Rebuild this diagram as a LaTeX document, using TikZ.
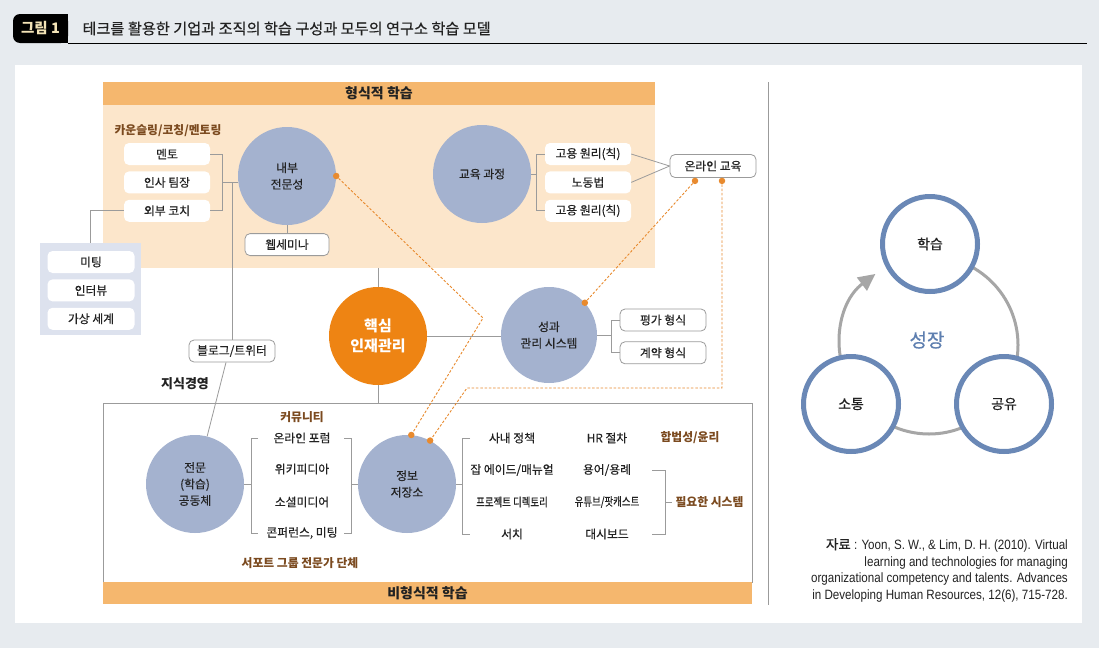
\documentclass[tikz,border=0pt]{standalone}
\usepackage{fontspec}
\setmainfont{Noto Sans CJK KR}[UprightFeatures={FakeBold=0.4}]
\newfontfamily\krnarrow{Noto Sans CJK KR}[FakeStretch=0.8, FakeBold=0.4]
\newfontfamily\citefont{Liberation Sans}[FakeStretch=0.86]
\usetikzlibrary{arrows.meta,positioning,calc}

\definecolor{bggray}{HTML}{E7EBEF}
\definecolor{bandorange}{HTML}{F5B76E}
\definecolor{formalbg}{HTML}{FCE6CB}
\definecolor{bubbleblue}{HTML}{A4B2CF}
\definecolor{coreorange}{HTML}{EE8413}
\definecolor{tagbrown}{HTML}{7B4A1F}
\definecolor{linegray}{HTML}{9B9B9B}
\definecolor{dashorange}{HTML}{E88A2E}
\definecolor{groupbg}{HTML}{DDE2EE}
\definecolor{ringblue}{HTML}{6A88B6}
\definecolor{arcgray}{HTML}{A6A6A6}
\definecolor{growblue}{HTML}{5E7FB0}
\definecolor{tabcream}{HTML}{F3E3B6}
\definecolor{inkdark}{HTML}{222222}

\begin{document}
\begin{tikzpicture}[
  x=1pt, y=-1pt,
  chip/.style={fill=white, rounded corners=5pt, minimum width=86pt, minimum height=22pt, inner sep=0pt, text=inkdark, font=\fontsize{11.8}{13}\selectfont},
  chipbox/.style={chip, draw=linegray, line width=0.8pt},
  bubble/.style={circle, fill=bubbleblue, minimum size=98pt, inner sep=0pt, align=center, text=inkdark, font=\fontsize{11.8}{16.5}\selectfont},
  brownlabel/.style={font=\bfseries\fontsize{11.8}{13}\selectfont, text=tagbrown},
  entrytext/.style={text=inkdark, font=\fontsize{11.8}{13}\selectfont},
  bandbar/.style={fill=bandorange, inner sep=0pt, text=inkdark, font=\bfseries\fontsize{14}{15}\selectfont},
  wire/.style={draw=linegray, line width=0.8pt},
  dashwire/.style={draw=dashorange, line width=0.9pt, dash pattern=on 2.5pt off 1.8pt},
  orangedot/.style={circle, fill=dashorange, inner sep=0pt, minimum size=6.5pt},
  ringnode/.style={circle, draw=ringblue, line width=5pt, fill=white, minimum size=95pt, inner sep=0pt, text=inkdark, font=\fontsize{14}{15}\selectfont},
  arcline/.style={draw=arcgray, line width=3pt},
]
\fill[bggray] (0,0) rectangle (1099,648);
\useasboundingbox (0,0) rectangle (1099,648);
\fill[white] (15,65) rectangle (1082,623);

% Title
\fill[black] (40,14) rectangle (68,43);
\node[fill=black, rounded corners=7pt, minimum width=55pt, minimum height=29pt, inner sep=0pt, text=tabcream, font=\bfseries\fontsize{14.5}{16}\selectfont] (figtab) at (40.5,28.5) {그림 1};
\node[anchor=west, text=inkdark, font=\fontsize{15.2}{16}\selectfont] (figtitle) at (79,28.5) {테크를 활용한 기업과 조직의 학습 구성과 모두의 연구소 학습 모델};
\draw[line width=1.2pt] (figtab.south east) -- ++(1019,0);

% Formal learning
\node[fill=formalbg, minimum width=552pt, minimum height=163pt, inner sep=0pt] (formal) at (379,186.5) {};
\node[bandbar, minimum width=552pt, minimum height=23pt] (formalhead) at (379,93.5) {형식적 학습};

% Informal learning
\node[draw=linegray, line width=0.8pt, minimum width=649pt, minimum height=179pt, inner sep=0pt] (informal) at (427.5,492.5) {};
\node[bandbar, minimum width=649pt, minimum height=22pt] (informalhead) at (427.5,593) {비형식적 학습};

% Counselling group
\node[brownlabel] (counsel) at (168,131) {카운슬링/코칭/멘토링};
\node[chip] (mentor) at (167,154) {멘토};
\node[chip, below=6pt of mentor] (hrlead) {인사 팀장};
\node[chip, below=6pt of hrlead] (coach) {외부 코치};

\node[fill=groupbg, minimum width=101pt, minimum height=92pt, inner sep=0pt] (meetbox) at (90.5,289) {};
\node[chip, minimum width=87pt] (meeting) at (91,262) {미팅};
\node[chip, minimum width=87pt, below=6pt of meeting] (interview) {인터뷰};
\node[chip, minimum width=87pt, below=6pt of interview] (virtual) {가상 세계};

\node[bubble] (inner) at (287,176) {내부\\전문성};
\node[chipbox, minimum width=84pt, below=8pt of inner] (webinar) {웹세미나};

% Courses
\node[bubble] (course) at (482,174) {교육 과정};
\node[chip] (law1) at (588,154) {고용 원리(칙)};
\node[chip, below=6pt of law1] (law2) {노동법};
\node[chip, below=6pt of law2] (law3) {고용 원리(칙)};
\node[chipbox, minimum height=23pt] (online) at (713,166) {온라인 교육};

% Core
\node[circle, fill=coreorange, minimum size=98pt, inner sep=0pt, text=white, align=center, font=\bfseries\fontsize{15}{20}\selectfont] (core) at (378,336) {핵심\\인재관리};
\node[bubble, minimum size=96pt] (perf) at (549,335) {성과\\관리 시스템};
\node[chipbox] (evalform) at (663,320) {평가 형식};
\node[chipbox, below=10pt of evalform] (contract) {계약 형식};

\node[chipbox] (blog) at (232,351) {블로그/트위터};
\node[text=inkdark, font=\bfseries\fontsize{13}{14}\selectfont] (km) at (185,384) {지식경영};

% Community
\node[bubble] (community) at (195,484) {전문\\(학습)\\공동체};
\node[brownlabel] (commtitle) at (302,417) {커뮤니티};
\node[entrytext] (forum) at (302,438) {온라인 포럼};
\node[entrytext] (wiki) at (302,469) {위키피디아};
\node[entrytext] (social) at (302,502) {소셜미디어};
\node[entrytext] (conf) at (302,533) {콘퍼런스, 미팅};
\node[brownlabel] (support) at (300,563) {서포트 그룹 전문가 단체};

\node[bubble] (store) at (407,484) {정보\\저장소};
\node[entrytext] (policy) at (512,438) {사내 정책};
\node[entrytext] (jobaid) at (512,470) {잡 에이드/매뉴얼};
\node[entrytext] (projdir) at (512,502) {\krnarrow 프로젝트 디렉토리};
\node[entrytext] (search) at (512,534) {서치};
\node[entrytext] (hrproc) at (607,438) {HR 절차};
\node[entrytext] (terms) at (607,470) {용어/용례};
\node[entrytext] (tube) at (607,502) {\krnarrow 유튜브/팟캐스트};
\node[entrytext] (dash) at (607,534) {대시보드};
\node[brownlabel] (legal) at (690,438) {합법성/윤리};
\node[brownlabel, anchor=west] (needsys) at (672,502) {필요한 시스템};

% Connectors
\draw[wire] (mentor.east) -- ++(12,0) |- (coach.east);
\draw[wire] ([xshift=12pt]hrlead.east) -- (hrlead.east -| inner.west);
\draw[wire] (hrlead.east -| blog.north) -- (blog.north);
\draw[wire] (coach.west) -| (meetbox.north);
\draw[wire] (inner.south) -- (webinar.north);
\draw[wire] ([xshift=-6pt]blog.south) -- (community);

\draw[wire] (law1.west) -- ++(-8,0) |- (law3.west);
\draw[wire] (course.east) -- ([xshift=-8pt]law2.west |- course.east);
\draw[wire] (law1.east) -- (online.west);
\draw[wire] (law2.east) -- (online.west);

\draw[wire] (core.north) -- (core.north |- formal.south);
\draw[wire] (core.south) -- (core.south |- informal.north);
\draw[wire] (core.east) -- (core.east -| perf.west);
\draw[wire] (evalform.west) -- ++(-8,0) |- (contract.west);
\draw[wire] (perf.east) -- ([xshift=-8pt]evalform.west |- perf.east);

\coordinate (lbt) at (251,438);
\coordinate (lbb) at (251,533);
\draw[wire] ([xshift=7pt]lbt) -- (lbt) -- (lbb) -- ([xshift=7pt]lbb);
\draw[wire] (community.east) -- (community.east -| lbt);
\coordinate (rbt) at (351,438);
\coordinate (rbb) at (351,533);
\draw[wire] ([xshift=-7pt]rbt) -- (rbt) -- (rbb) -- ([xshift=-7pt]rbb);
\draw[wire] (rbt |- store.west) -- (store.west);
\coordinate (sbt) at (462,438);
\coordinate (sbb) at (462,534);
\draw[wire] ([xshift=8pt]sbt) -- (sbt) -- (sbb) -- ([xshift=8pt]sbb);
\draw[wire] (store.east) -- (store.east -| sbt);
\coordinate (nbt) at (665,470);
\coordinate (nbb) at (665,534);
\draw[wire] ([xshift=-13pt]nbt) -- (nbt) -- (nbb) -- ([xshift=-13pt]nbb);
\draw[wire] (nbt |- needsys.west) -- (needsys.west);

% Online links
\node[orangedot] (dinner) at (inner.east) {};
\node[orangedot] (donl1) at ([xshift=-18pt, yshift=-3pt]online.south) {};
\node[orangedot] (donl2) at ([xshift=9pt, yshift=-3pt]online.south) {};
\node[orangedot] (dperf) at (perf.42) {};
\node[orangedot] (dstore1) at (store.85) {};
\node[orangedot] (dstore2) at (store.62) {};
\coordinate (bendA) at (483,318);
\coordinate (bendB) at (467,388);
\draw[dashwire] (dinner) -- (bendA) -- (dstore1);
\draw[dashwire] (donl1) -- (dperf);
\draw[dashwire] (donl2) |- (bendB) -- (dstore2);

% Separator
\draw[linegray, line width=0.8pt] (768,82) -- (768,605);

% Growth cycle
\coordinate (hub) at (929,345);
\draw[arcline] (hub) ++(-90:89) arc[start angle=-90, end angle=143, radius=89];
\draw[arcline, -{Triangle[length=17pt, width=16pt]}] (hub) ++(143:89) arc[start angle=143, end angle=233, radius=89];
\node[ringnode] (learn) at (930,244) {학습};
\node[ringnode] (talk) at (851,404) {소통};
\node[ringnode] (share) at (1004,404) {공유};
\node[text=growblue, font=\fontsize{19}{20}\selectfont] (growth) at (927,340) {성장};

% Source
\node[anchor=north east, align=right, inner sep=0pt, text=inkdark, font=\citefont\fontsize{13.5}{16.7}\selectfont] (source) at (1068,538) {{\normalfont 자료} : Yoon, S. W., \& Lim, D. H. (2010). Virtual\\learning and technologies for managing\\organizational competency and talents. Advances\\in Developing Human Resources, 12(6), 715-728.};
\end{tikzpicture}
\end{document}
